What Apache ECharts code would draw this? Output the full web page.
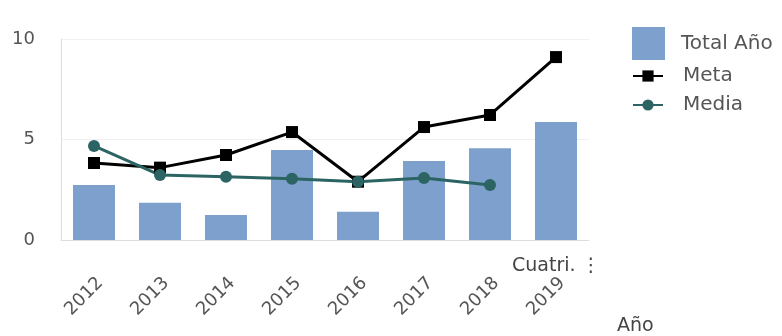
<!DOCTYPE html>
<html><head><meta charset="utf-8">
<script src="https://cdn.jsdelivr.net/npm/echarts@6/dist/echarts.min.js"></script>
<style>html,body{margin:0;padding:0;background:#fff}#c{width:782px;height:336px}</style>
</head><body><div id="c"></div>
<script>
var categories = ['2012','2013','2014','2015','2016','2017','2018','2019'];
var totalAno = [2.74, 1.85, 1.24, 4.48, 1.4, 3.93, 4.57, 5.87];
var meta = [3.83, 3.6, 4.23, 5.37, 2.9, 5.62, 6.22, 9.1];
var media = [4.68, 3.23, 3.15, 3.05, 2.9, 3.08, 2.74, null];
var yTicks = [0, 5, 10];

var chart = echarts.init(document.getElementById('c'));
var font = 'DejaVu Sans';
chart.setOption({
  animation: false,
  grid: {left: 61, right: 193, top: 39, bottom: 96, containLabel: false, outerBoundsMode: 'none'},
  legend: [{
    orient: 'vertical', left: 632, top: 27, padding: 0, itemWidth: 33, itemHeight: 33, itemGap: 0,
    icon: 'rect',
    textStyle: {fontFamily: font, fontSize: 20, color: '#555', padding: [0,0,0,11]},
    data: ['Total Año']
  },{
    orient: 'vertical', left: 632, top: 66, padding: 0, itemWidth: 30, itemHeight: 14, itemGap: 9,
    textStyle: {fontFamily: font, fontSize: 20, lineHeight: 20, color: '#555', padding: [0,0,0,15]},
    data: ['Meta', 'Media']
  }],
  xAxis: {
    type: 'category', data: categories,
    axisLine: {lineStyle: {color: '#ddd'}},
    axisTick: {show: false},
    axisLabel: {rotate: 45, margin: 34, verticalAlign: 'top', fontFamily: font, fontSize: 18, color: '#555'}
  },
  yAxis: {
    type: 'value', min: 0, max: 10, interval: 5,
    axisLine: {show: true, lineStyle: {color: '#ddd'}},
    axisTick: {show: false},
    splitLine: {lineStyle: {color: '#f0f0f0'}},
    axisLabel: {margin: 26, fontFamily: font, fontSize: 18, color: '#555',
      formatter: function (v) { return yTicks.indexOf(v) >= 0 ? String(v) : ''; }}
  },
  graphic: [{
    type: 'text', left: 512, top: 257,
    style: {text: 'Cuatri. \u22ee', font: '19px "DejaVu Sans"', fill: '#444'}
  },{
    type: 'text', left: 617, top: 317,
    style: {text: 'Año', font: '19px "DejaVu Sans"', fill: '#444'}
  }],
  series: [{
    name: 'Total Año', type: 'bar', data: totalAno, barWidth: 42,
    itemStyle: {color: '#7da0cc'}
  },{
    name: 'Meta', type: 'line', data: meta, symbol: 'rect', symbolSize: 12,
    lineStyle: {color: '#000', width: 3}, itemStyle: {color: '#000'}
  },{
    name: 'Media', type: 'line', data: media, symbol: 'circle', symbolSize: 12,
    lineStyle: {color: '#2c6464', width: 3}, itemStyle: {color: '#2c6464'}
  }]
});
</script></body></html>
